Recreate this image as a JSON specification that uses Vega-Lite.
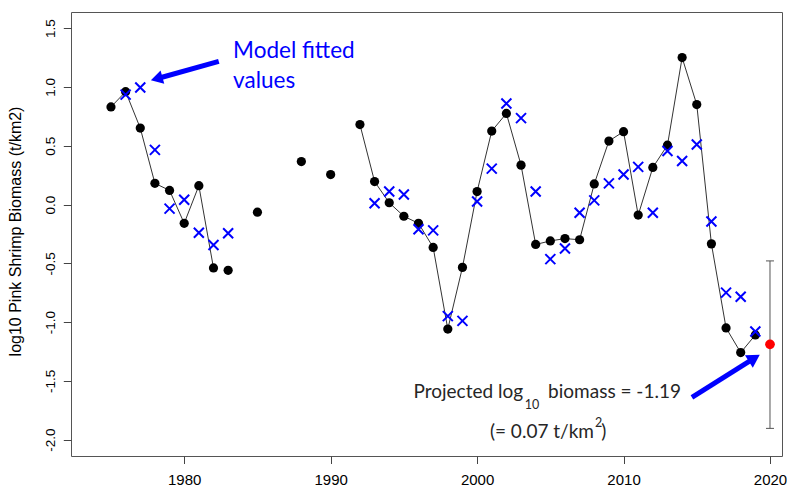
{
  "$schema": "https://vega.github.io/schema/vega-lite/v6.json",
  "width": 711,
  "height": 444,
  "autosize": {"type": "none"},
  "padding": {"left": 71, "top": 12, "right": 5, "bottom": 31},
  "background": "white",
  "config": {"view": {"stroke": "#555", "strokeWidth": 1}, "font": "Liberation Sans"},
  "datasets": {
    "series": [
      {"year": 1975, "biomass": 0.83, "fitted": null, "seg": "a"},
      {"year": 1976, "biomass": 0.96, "fitted": 0.935, "seg": "a"},
      {"year": 1977, "biomass": 0.65, "fitted": 0.995, "seg": "a"},
      {"year": 1978, "biomass": 0.18, "fitted": 0.465, "seg": "a"},
      {"year": 1979, "biomass": 0.12, "fitted": -0.035, "seg": "a"},
      {"year": 1980, "biomass": -0.16, "fitted": 0.04, "seg": "a"},
      {"year": 1981, "biomass": 0.16, "fitted": -0.24, "seg": "a"},
      {"year": 1982, "biomass": -0.54, "fitted": -0.345, "seg": "a"},
      {"year": 1983, "biomass": -0.56, "fitted": -0.245, "seg": "b"},
      {"year": 1985, "biomass": -0.065, "fitted": null, "seg": "c"},
      {"year": 1988, "biomass": 0.365, "fitted": null, "seg": "d"},
      {"year": 1990, "biomass": 0.255, "fitted": null, "seg": "e"},
      {"year": 1992, "biomass": 0.68, "fitted": null, "seg": "f"},
      {"year": 1993, "biomass": 0.195, "fitted": 0.01, "seg": "f"},
      {"year": 1994, "biomass": 0.015, "fitted": 0.11, "seg": "f"},
      {"year": 1995, "biomass": -0.1, "fitted": 0.085, "seg": "f"},
      {"year": 1996, "biomass": -0.16, "fitted": -0.21, "seg": "f"},
      {"year": 1997, "biomass": -0.365, "fitted": -0.22, "seg": "f"},
      {"year": 1998, "biomass": -1.06, "fitted": -0.95, "seg": "f"},
      {"year": 1999, "biomass": -0.535, "fitted": -0.99, "seg": "f"},
      {"year": 2000, "biomass": 0.11, "fitted": 0.025, "seg": "f"},
      {"year": 2001, "biomass": 0.625, "fitted": 0.305, "seg": "f"},
      {"year": 2002, "biomass": 0.775, "fitted": 0.86, "seg": "f"},
      {"year": 2003, "biomass": 0.335, "fitted": 0.735, "seg": "f"},
      {"year": 2004, "biomass": -0.34, "fitted": 0.11, "seg": "f"},
      {"year": 2005, "biomass": -0.31, "fitted": -0.465, "seg": "f"},
      {"year": 2006, "biomass": -0.29, "fitted": -0.375, "seg": "f"},
      {"year": 2007, "biomass": -0.3, "fitted": -0.07, "seg": "f"},
      {"year": 2008, "biomass": 0.175, "fitted": 0.035, "seg": "f"},
      {"year": 2009, "biomass": 0.54, "fitted": 0.18, "seg": "f"},
      {"year": 2010, "biomass": 0.62, "fitted": 0.255, "seg": "f"},
      {"year": 2011, "biomass": -0.09, "fitted": 0.32, "seg": "f"},
      {"year": 2012, "biomass": 0.315, "fitted": -0.07, "seg": "f"},
      {"year": 2013, "biomass": 0.505, "fitted": 0.455, "seg": "f"},
      {"year": 2014, "biomass": 1.25, "fitted": 0.37, "seg": "f"},
      {"year": 2015, "biomass": 0.85, "fitted": 0.51, "seg": "f"},
      {"year": 2016, "biomass": -0.335, "fitted": -0.145, "seg": "f"},
      {"year": 2017, "biomass": -1.05, "fitted": -0.75, "seg": "f"},
      {"year": 2018, "biomass": -1.26, "fitted": -0.785, "seg": "f"},
      {"year": 2019, "biomass": -1.11, "fitted": -1.08, "seg": "f"}
    ],
    "projection": [{"year": 2020, "est": -1.19, "lo": -1.905, "hi": -0.48}],
    "arrows": [
      {"id": "fit", "x": 1982.36, "y": 1.218, "x2": 1978.12, "y2": 1.07},
      {"id": "proj", "x": 2014.67, "y": -1.641, "x2": 2018.93, "y2": -1.307}
    ]
  },
  "layer": [
    {
      "data": {"name": "series"},
      "transform": [{"filter": "datum.biomass != null"}],
      "mark": {"type": "line", "color": "#333", "strokeWidth": 1},
      "encoding": {
        "x": {"field": "year", "type": "quantitative", "scale": {"domain": [1972.27, 2020.82], "nice": false, "zero": false},
          "axis": {"values": [1980, 1990, 2000, 2010, 2020], "format": "d", "domain": false, "grid": false, "tickSize": 7.5, "tickColor": "#444", "labelFont": "Liberation Sans", "labelFontSize": 15, "labelColor": "#000", "labelPadding": 9, "labelFlush": false, "labelOverlap": false, "title": null}},
        "y": {"field": "biomass", "type": "quantitative", "scale": {"domain": [-2.14, 1.638], "nice": false, "zero": false},
          "title": "log10 Pink Shrimp Biomass (t/km2)",
          "axis": {"values": [-2, -1.5, -1, -0.5, 0, 0.5, 1, 1.5], "labelExpr": "replace(format(datum.value, '.1f'), '\u2212', '-')", "domain": false, "grid": false, "tickSize": 7.7, "tickColor": "#444", "labelAngle": 270, "labelAlign": "center", "labelBaseline": "alphabetic", "labelPadding": 9, "labelFont": "Liberation Sans", "labelFontSize": 13.5, "labelColor": "#000", "labelFlush": false, "labelOverlap": false,
            "titleFont": "Liberation Sans", "titleFontSize": 16, "titleFontWeight": "normal", "titleColor": "#000", "titleAngle": 270, "titleAlign": "center", "titleBaseline": "alphabetic", "titleX": -50.5, "titleY": 219}},
        "detail": {"field": "seg", "type": "nominal"}
      }
    },
    {
      "data": {"name": "series"},
      "transform": [{"filter": "datum.biomass != null"}],
      "mark": {"type": "point", "shape": "circle", "filled": true, "color": "#000", "size": 85, "opacity": 1},
      "encoding": {
        "x": {"field": "year", "type": "quantitative", "scale": {"domain": [1972.27, 2020.82], "nice": false, "zero": false}, "title": null},
        "y": {"field": "biomass", "type": "quantitative", "scale": {"domain": [-2.14, 1.638], "nice": false, "zero": false}, "title": "log10 Pink Shrimp Biomass (t/km2)"}
      }
    },
    {
      "data": {"name": "series"},
      "transform": [{"filter": "datum.fitted != null"}],
      "mark": {"type": "point", "shape": "M-1,-1L1,1M-1,1L1,-1", "filled": false, "stroke": "#0000FF", "strokeWidth": 2, "size": 100, "opacity": 1},
      "encoding": {
        "x": {"field": "year", "type": "quantitative", "scale": {"domain": [1972.27, 2020.82], "nice": false, "zero": false}, "title": null},
        "y": {"field": "fitted", "type": "quantitative", "scale": {"domain": [-2.14, 1.638], "nice": false, "zero": false}, "title": "log10 Pink Shrimp Biomass (t/km2)"}
      }
    },
    {
      "data": {"name": "projection"},
      "mark": {"type": "rule", "color": "#555", "strokeWidth": 1},
      "encoding": {
        "x": {"field": "year", "type": "quantitative", "scale": {"domain": [1972.27, 2020.82], "nice": false, "zero": false}, "title": null},
        "y": {"field": "lo", "type": "quantitative", "scale": {"domain": [-2.14, 1.638], "nice": false, "zero": false}, "title": "log10 Pink Shrimp Biomass (t/km2)"},
        "y2": {"field": "hi"}
      }
    },
    {
      "data": {"name": "projection"},
      "transform": [{"fold": ["lo", "hi"], "as": ["bound", "val"]}],
      "mark": {"type": "point", "shape": "M-1,0L1,0", "filled": false, "stroke": "#555", "strokeWidth": 1, "size": 64, "opacity": 1},
      "encoding": {
        "x": {"field": "year", "type": "quantitative", "scale": {"domain": [1972.27, 2020.82], "nice": false, "zero": false}, "title": null},
        "y": {"field": "val", "type": "quantitative", "scale": {"domain": [-2.14, 1.638], "nice": false, "zero": false}, "title": "log10 Pink Shrimp Biomass (t/km2)"}
      }
    },
    {
      "data": {"name": "projection"},
      "mark": {"type": "point", "shape": "circle", "filled": true, "color": "#FF0000", "size": 95, "opacity": 1},
      "encoding": {
        "x": {"field": "year", "type": "quantitative", "scale": {"domain": [1972.27, 2020.82], "nice": false, "zero": false}, "title": null},
        "y": {"field": "est", "type": "quantitative", "scale": {"domain": [-2.14, 1.638], "nice": false, "zero": false}, "title": "log10 Pink Shrimp Biomass (t/km2)"}
      }
    },
    {
      "data": {"name": "arrows"},
      "mark": {"type": "rule", "color": "#0000FF", "strokeWidth": 5},
      "encoding": {
        "x": {"field": "x", "type": "quantitative", "scale": {"domain": [1972.27, 2020.82], "nice": false, "zero": false}, "title": null},
        "y": {"field": "y", "type": "quantitative", "scale": {"domain": [-2.14, 1.638], "nice": false, "zero": false}, "title": "log10 Pink Shrimp Biomass (t/km2)"},
        "x2": {"field": "x2"},
        "y2": {"field": "y2"}
      }
    },
    {
      "data": {"name": "arrows"},
      "transform": [{"filter": "datum.id == 'fit'"}],
      "mark": {"type": "point", "shape": "triangle-up", "filled": true, "color": "#0000FF", "size": 190, "angle": 254.5, "opacity": 1},
      "encoding": {
        "x": {"field": "x2", "type": "quantitative", "scale": {"domain": [1972.27, 2020.82], "nice": false, "zero": false}, "title": null},
        "y": {"field": "y2", "type": "quantitative", "scale": {"domain": [-2.14, 1.638], "nice": false, "zero": false}, "title": "log10 Pink Shrimp Biomass (t/km2)"}
      }
    },
    {
      "data": {"name": "arrows"},
      "transform": [{"filter": "datum.id == 'proj'"}],
      "mark": {"type": "point", "shape": "triangle-up", "filled": true, "color": "#0000FF", "size": 220, "angle": 57.9, "opacity": 1},
      "encoding": {
        "x": {"field": "x2", "type": "quantitative", "scale": {"domain": [1972.27, 2020.82], "nice": false, "zero": false}, "title": null},
        "y": {"field": "y2", "type": "quantitative", "scale": {"domain": [-2.14, 1.638], "nice": false, "zero": false}, "title": "log10 Pink Shrimp Biomass (t/km2)"}
      }
    },
    {
      "data": {"values": [
        {"x": 1983.34, "y": 1.244, "label": "Model fitted"},
        {"x": 1983.34, "y": 0.989, "label": "values"}
      ]},
      "mark": {"type": "text", "align": "left", "baseline": "alphabetic", "font": "Lato", "fontSize": 22.5, "color": "#0000FF"},
      "encoding": {
        "x": {"field": "x", "type": "quantitative", "scale": {"domain": [1972.27, 2020.82], "nice": false, "zero": false}, "title": null},
        "y": {"field": "y", "type": "quantitative", "scale": {"domain": [-2.14, 1.638], "nice": false, "zero": false}, "title": "log10 Pink Shrimp Biomass (t/km2)"},
        "text": {"field": "label"}
      }
    },
    {
      "data": {"values": [
        {"x": 2003.14, "y": -1.646, "label": "Projected log", "align": "right"},
        {"x": 2004.85, "y": -1.646, "label": "biomass = -1.19", "align": "left"},
        {"x": 2007.98, "y": -1.99, "label": "(= 0.07 t/km", "align": "right"},
        {"x": 2008.48, "y": -1.99, "label": ")", "align": "left"}
      ]},
      "transform": [{"filter": "datum.align == 'right'"}],
      "mark": {"type": "text", "align": "right", "baseline": "alphabetic", "font": "Lato", "fontSize": 19, "color": "#262626"},
      "encoding": {
        "x": {"field": "x", "type": "quantitative", "scale": {"domain": [1972.27, 2020.82], "nice": false, "zero": false}, "title": null},
        "y": {"field": "y", "type": "quantitative", "scale": {"domain": [-2.14, 1.638], "nice": false, "zero": false}, "title": "log10 Pink Shrimp Biomass (t/km2)"},
        "text": {"field": "label"}
      }
    },
    {
      "data": {"values": [
        {"x": 2004.85, "y": -1.646, "label": "biomass = -1.19"},
        {"x": 2008.48, "y": -1.99, "label": ")"}
      ]},
      "mark": {"type": "text", "align": "left", "baseline": "alphabetic", "font": "Lato", "fontSize": 19, "color": "#262626"},
      "encoding": {
        "x": {"field": "x", "type": "quantitative", "scale": {"domain": [1972.27, 2020.82], "nice": false, "zero": false}, "title": null},
        "y": {"field": "y", "type": "quantitative", "scale": {"domain": [-2.14, 1.638], "nice": false, "zero": false}, "title": "log10 Pink Shrimp Biomass (t/km2)"},
        "text": {"field": "label"}
      }
    },
    {
      "data": {"values": [
        {"x": 2003.26, "y": -1.736, "label": "10"},
        {"x": 2008.05, "y": -1.89, "label": "2"}
      ]},
      "mark": {"type": "text", "align": "left", "baseline": "alphabetic", "font": "Lato", "fontSize": 12.5, "color": "#262626"},
      "encoding": {
        "x": {"field": "x", "type": "quantitative", "scale": {"domain": [1972.27, 2020.82], "nice": false, "zero": false}, "title": null},
        "y": {"field": "y", "type": "quantitative", "scale": {"domain": [-2.14, 1.638], "nice": false, "zero": false}, "title": "log10 Pink Shrimp Biomass (t/km2)"},
        "text": {"field": "label"}
      }
    }
  ]
}
